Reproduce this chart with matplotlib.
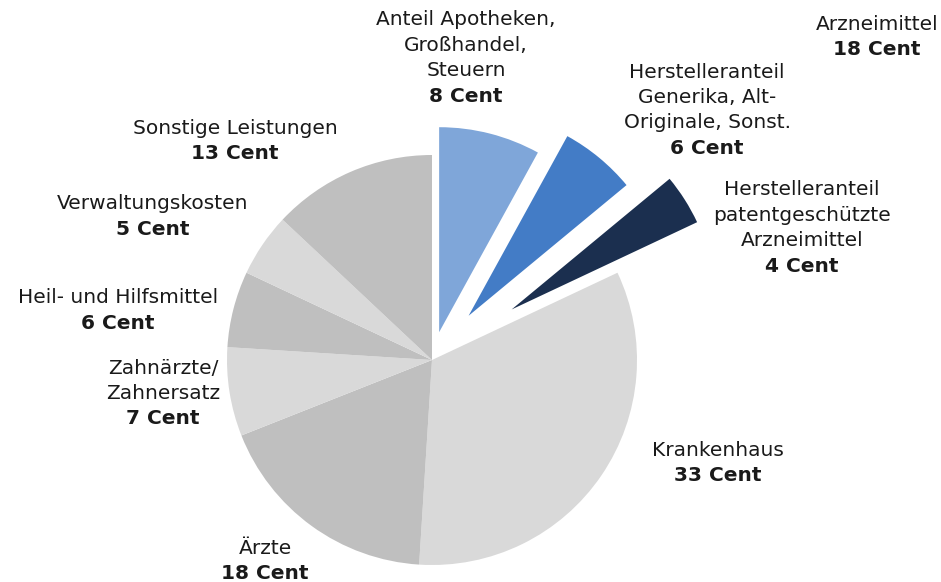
import matplotlib
matplotlib.use("Agg")
import matplotlib.pyplot as plt

# ---- data ----
categories = ["Anteil Apotheken,\nGroßhandel,\nSteuern",
              "Herstelleranteil\nGenerika, Alt-\nOriginale, Sonst.",
              "Herstelleranteil\npatentgeschützte\nArzneimittel",
              "Krankenhaus",
              "Ärzte",
              "Zahnärzte/\nZahnersatz",
              "Heil- und Hilfsmittel",
              "Verwaltungskosten",
              "Sonstige Leistungen"]
values = [8, 6, 4, 33, 18, 7, 6, 5, 13]
unit = "Cent"
group_label = "Arzneimittel"
group_value = 18

# ---- style ----
colors = ["#7fa6d9", "#437cc6", "#1b2f4f",
          "#d9d9d9", "#bfbfbf", "#d9d9d9", "#bfbfbf", "#d9d9d9", "#bfbfbf"]
explode = [0.14, 0.28, 0.46, 0, 0, 0, 0, 0, 0]
# label anchor (pixel centre x, pixel y of first line)
label_pos = [(466, 20), (707, 72), (802, 190), (718, 450), (265, 548),
             (163, 368), (118, 298), (153, 204), (235, 128)]
group_pos = (877, 24)

W, H = 941, 582
CX, CY, R = 432, 360, 205
fig = plt.figure(figsize=(W / 100, H / 100), dpi=100)
ax = fig.add_axes([0, 0, 1, 1])

ax.pie(values, colors=colors, explode=explode, startangle=90,
       counterclock=False, radius=1, center=(0, 0),
       wedgeprops=dict(linewidth=0))

ax.set_xlim(-CX / R, (W - CX) / R)
ax.set_ylim(-(H - CY) / R, CY / R)
ax.set_aspect("equal")
ax.axis("off")

FS = 14.5
LS = 25.5


def px(x, y):
    return (x - CX) / R, (CY - y) / R


def put_label(x, y, name, val):
    lines = name.split("\n")
    for i, ln in enumerate(lines):
        ax.text(*px(x, y + i * LS), ln, ha="center", va="center",
                fontsize=FS, color="#1a1a1a", family="DejaVu Sans")
    ax.text(*px(x, y + len(lines) * LS), f"{val} {unit}", ha="center",
            va="center", fontsize=FS, fontweight="bold", color="#1a1a1a",
            family="DejaVu Sans")


for name, v, (x, y) in zip(categories, values, label_pos):
    put_label(x, y, name, v)
put_label(group_pos[0], group_pos[1], group_label, group_value)

fig.savefig("out.png", dpi=100)
